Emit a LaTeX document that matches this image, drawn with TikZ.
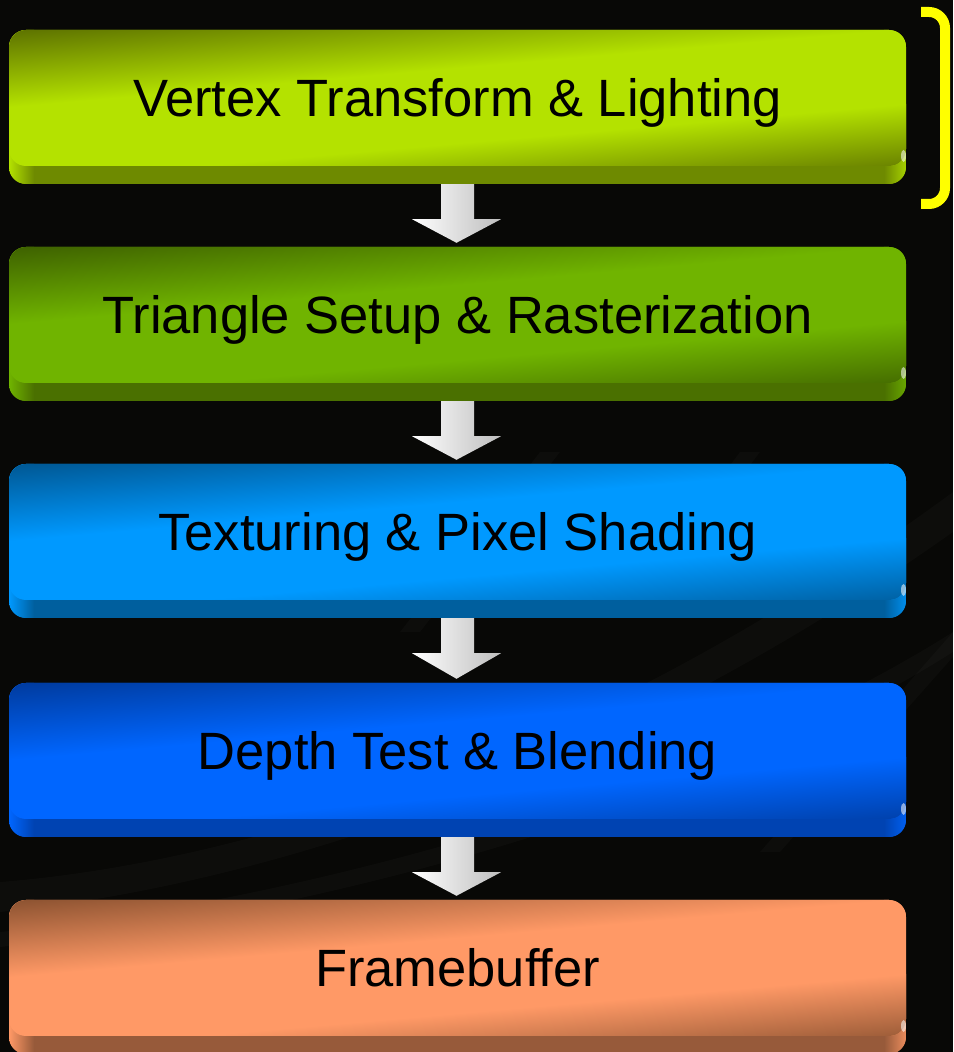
\documentclass[tikz,border=0pt]{standalone}
\usepackage{fontspec}
\setmainfont{Liberation Sans}
\usetikzlibrary{calc}

% stage colours: bright face, dark face corners, lip
\definecolor{bgcol}{HTML}{080806}
\definecolor{aHi}{HTML}{B4E200}\definecolor{aDk}{HTML}{5A6E00}\definecolor{aLip}{HTML}{6E8A00}
\definecolor{bHi}{HTML}{70B400}\definecolor{bDk}{HTML}{3C5E00}\definecolor{bLip}{HTML}{4A7000}
\definecolor{cHi}{HTML}{0099FF}\definecolor{cDk}{HTML}{00558F}\definecolor{cLip}{HTML}{005F9E}
\definecolor{dHi}{HTML}{0066FF}\definecolor{dDk}{HTML}{00399A}\definecolor{dLip}{HTML}{0043B2}
\definecolor{eHi}{HTML}{FF9966}\definecolor{eDk}{HTML}{88502F}\definecolor{eLip}{HTML}{975A3A}
\definecolor{arrowlo}{HTML}{BEBEBE}
\definecolor{bracketcol}{HTML}{FFFF00}

\tikzset{
  face/.style={rounded corners=17pt,
    minimum width=897pt, minimum height=136pt, inner sep=0pt,
    text height=37.5pt, text depth=0pt,
    font=\fontsize{52.5}{60}\selectfont, text=black},
  facecorners/.style={rounded corners=17pt},
  gloss/.style={fill=white, opacity=0.55},
  flowarrow/.style={left color=white, right color=arrowlo},
  bracketline/.style={draw=bracketcol, line width=10pt, rounded corners=16pt},
  streak/.style={fill=white, opacity=0.025},
}

% one pipeline stage: name, centre y, bright colour, dark colour, lip colour, label
\newcommand\pipestage[6]{%
  % lip under the face, with lighter rounded ends
  \begin{scope}
    \clip[facecorners] (9,{#2+68}) rectangle (906,{#2-86});
    \fill[#5] (9,{#2+68}) rectangle (906,{#2-86});
    \shade[left color=#3, right color=#5] (9,{#2+68}) rectangle (34,{#2-86});
    \shade[left color=#5, right color=#3!80!#5] (884,{#2+68}) rectangle (906,{#2-86});
  \end{scope}
  % face: bright band, darkening towards the upper left and lower right
  \begin{scope}
    \clip[facecorners] (9,{#2+68}) rectangle (906,{#2-68});
    \begin{scope}[transform canvas={rotate around={5:(457.5,#2)}}]
      \fill[#3] (-100,{#2-140}) rectangle (1050,{#2+140});
      \shade[top color=#4, bottom color=#3] (-100,{#2+30}) rectangle (1050,{#2+110});
      \fill[#4] (-100,{#2+110}) rectangle (1050,{#2+140});
      \shade[top color=#3, bottom color=#4] (-100,{#2-45}) rectangle (1050,{#2-120});
      \fill[#4] (-100,{#2-120}) rectangle (1050,{#2-140});
    \end{scope}
  \end{scope}
  \node[face] (#1) at (457.5,#2) {#6};
  \fill[gloss] (903.5,{#2-58}) ellipse (2.5pt and 6pt);
}
% block arrow from the lip of one stage down to the next stage
\newcommand\pipearrow[2]{%
  \shade[flowarrow] ($(#1.south)+(-16.5,-18)$) -- ($(#1.south)+(16.5,-18)$)
    -- ($(#1.south)+(16.5,-53)$) -- ($(#1.south)+(43.5,-53)$)
    -- ($(#2.north)+(-1,4)$)
    -- ($(#1.south)+(-45.5,-53)$) -- ($(#1.south)+(-16.5,-53)$) -- cycle;
}

\begin{document}
\begin{tikzpicture}[x=1pt, y=1pt]
  % background with faint sweeping streaks
  \fill[bgcol] (0,0) rectangle (953,1052);
  \useasboundingbox (0,0) rectangle (953,1052);
  \begin{scope}
    \clip (0,0) rectangle (953,1052);
    \fill[streak] (0,170) .. controls (250,190) and (600,300) .. (953,560) -- (953,520) .. controls (600,270) and (250,165) .. (0,140) -- cycle;
    \fill[streak] (0,120) .. controls (300,150) and (700,260) .. (953,420) -- (953,400) .. controls (700,240) and (300,135) .. (0,105) -- cycle;
    \fill[streak] (420,420) -- (560,600) -- (540,600) -- (400,420) -- cycle;
    \fill[streak] (760,200) -- (953,420) -- (953,395) -- (780,200) -- cycle;
    \fill[streak] (640,440) -- (760,600) -- (740,600) -- (620,440) -- cycle;
  \end{scope}

  % stages
  \pipestage{vtx}{954}{aHi}{aDk}{aLip}{Vertex Transform \& Lighting}
  \pipestage{tri}{737}{bHi}{bDk}{bLip}{Triangle Setup \& Rasterization}
  \pipestage{tex}{520}{cHi}{cDk}{cLip}{Texturing \& Pixel Shading}
  \pipestage{dep}{301}{dHi}{dDk}{dLip}{Depth Test \& Blending}
  \pipestage{fb}{84}{eHi}{eDk}{eLip}{Framebuffer}

  % flow arrows
  \pipearrow{vtx}{tri}
  \pipearrow{tri}{tex}
  \pipearrow{tex}{dep}
  \pipearrow{dep}{fb}

  % bracket beside the first stage
  \coordinate (brtop) at (921,1040);
  \coordinate (brbot) at (921,848);
  \draw[bracketline] (brtop) -- (945,1040) -- (945,848) -- (brbot);
\end{tikzpicture}
\end{document}
